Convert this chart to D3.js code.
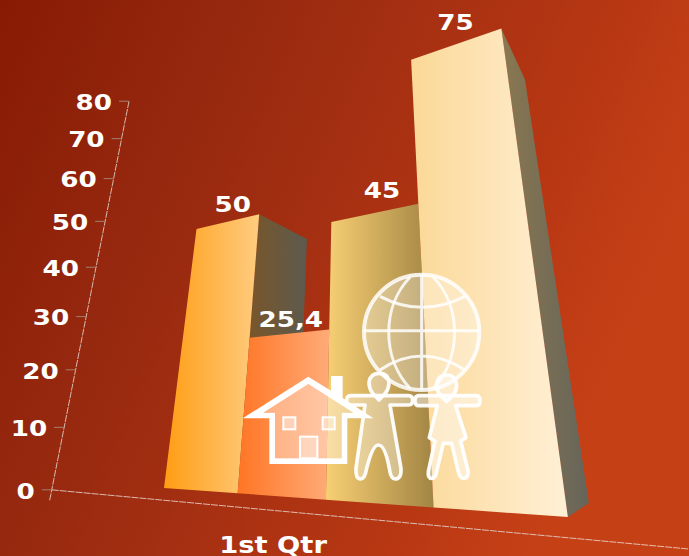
<!DOCTYPE html>
<html>
<head>
<meta charset="utf-8">
<script src="https://cdn.jsdelivr.net/npm/d3@7"></script>
<style>
html,body{margin:0;padding:0;background:#a02c0e;overflow:hidden}
svg{display:block}
text{font-family:"DejaVu Sans",sans-serif;font-weight:700;fill:#fff}
</style>
</head>
<body>
<svg id="c" width="689" height="556"></svg>
<script>
const categories = ["1st Qtr"];
const seriesNames = ["Series 1", "Series 2", "Series 3", "Series 4"];
const seriesValues = [50, 25.4, 45, 75];
const tickValues = [0, 10, 20, 30, 40, 50, 60, 70, 80];
const frontColors = [["#ff9d14", "#ffcc80"], ["#ff7524", "#ffab78"], ["#f8cf74", "#a28544"], ["#fbd897", "#fff0d6"]];
const sideColors = [["#7f5522", "#5c5a4e"], null, null, ["#8a7850", "#66645a"]];
const labelNudges = [[6, -17], [3, -14], [9, -23], [1, -22]];

const W = 689, H = 556;
const svg = d3.select("#c");
const defs = svg.append("defs");

const bg = defs.append("linearGradient").attr("id", "bg")
  .attr("x1", 0).attr("y1", 0).attr("x2", 1).attr("y2", 0.35);
[[0, "#881a04"], [0.3, "#95280e"], [0.55, "#a63012"], [0.8, "#b73713"], [1, "#c64016"]]
  .forEach(([o, c]) => bg.append("stop").attr("offset", o).attr("stop-color", c));
svg.append("rect").attr("width", W).attr("height", H).attr("fill", "url(#bg)");

// Scales for the three chart axes; combined in a perspective projection.
const uScale = d3.scaleBand().domain(seriesNames).range([0, seriesNames.length]);
const vScale = d3.scaleLinear().domain([0, 80]).range([0, 0.3264]);
const tDepth = d3.scaleLinear().domain([0, 1]).range([0, 1]);

function project(u, v, t) {
  const h = vScale(v), d = tDepth(t);
  const xh = 164 + 54 * u + 356 * h + 96.5 * d;
  const yh = 488 - 35.5 * u - 1040 * h + 61 * d;
  const wh = 1 - 0.0827 * u + h + 0.14 * d;
  return [xh / wh, yh / wh];
}
const poly = pts => d3.line()(pts) + "Z";

const bars = seriesNames.map((name, i) => ({ name, i, value: seriesValues[i], u0: uScale(name), u1: uScale(name) + uScale.bandwidth() }));

function gradient(id, cols, pts) {
  const xs = pts.map(p => p[0]);
  const g = defs.append("linearGradient").attr("id", id).attr("gradientUnits", "userSpaceOnUse")
    .attr("x1", d3.min(xs)).attr("x2", d3.max(xs)).attr("y1", 0).attr("y2", 0);
  g.append("stop").attr("offset", 0).attr("stop-color", cols[0]);
  g.append("stop").attr("offset", 1).attr("stop-color", cols[1]);
}

const barG = svg.append("g");
bars.forEach(b => {
  const side = [project(b.u1, 0, 0), project(b.u1, b.value, 0), project(b.u1, b.value, 1), project(b.u1, 0, 1)];
  const front = [project(b.u0, 0, 0), project(b.u0, b.value, 0), project(b.u1, b.value, 0), project(b.u1, 0, 0)];
  if (sideColors[b.i]) {
    gradient("s" + b.i, sideColors[b.i], side);
    barG.append("path").attr("d", poly(side)).attr("fill", `url(#s${b.i})`);
  }
  gradient("f" + b.i, frontColors[b.i], front);
  barG.append("path").attr("d", poly(front)).attr("fill", `url(#f${b.i})`);
});

// Axes
const axU = -0.773, axT = -0.753;
const axisG = svg.append("g").attr("fill", "none");
const axisOrigin = project(axU, 0, axT), axisTop = project(axU, 80, axT);
const axisBelow = project(axU, -1.6, axT), axisRight = project(5, 0, -0.9);
const axisStyle = s => s.attr("stroke", "#e8dcd6").attr("stroke-width", 1).attr("stroke-dasharray", "7 1").attr("stroke-opacity", 0.8);
axisG.append("path").attr("d", d3.line()([axisBelow, axisTop])).call(axisStyle);
axisG.append("path").attr("d", d3.line()([axisOrigin, axisRight])).call(axisStyle);

const labelFont = 22, labelScale = 1.19;
tickValues.forEach(t => {
  const p = project(axU, t, axT);
  axisG.append("line").attr("x1", p[0] - 10).attr("x2", p[0]).attr("y1", p[1]).attr("y2", p[1])
    .attr("stroke", "#a08070").attr("stroke-width", 1);
  svg.append("text").attr("text-anchor", "end").attr("dominant-baseline", "central")
    .attr("font-size", labelFont)
    .attr("transform", `translate(${p[0] - 17},${p[1] + 1.5}) scale(${labelScale},1)`)
    .text(t);
});

// Category label
svg.append("text").attr("text-anchor", "middle").attr("dominant-baseline", "central")
  .attr("font-size", 23)
  .attr("transform", `translate(273,545) scale(1.19,1)`)
  .text(categories[0]);

// Clip art decoration, in a 3x working space
const art = svg.append("g").attr("transform", "translate(230,260) scale(0.3333)");
const globe = art.append("g").attr("fill", "none").attr("stroke", "#fff").attr("stroke-opacity", 0.85).attr("stroke-width", 9);
globe.append("circle").attr("cx", 575).attr("cy", 217).attr("r", 173).attr("fill", "#fff").attr("fill-opacity", 0.3).attr("stroke-width", 12);
globe.append("path").attr("d", "M540,52C455,140 455,295 540,385M610,52C695,140 695,295 610,385");
globe.append("path").attr("d", "M575,44V390M402,212H748M450,109Q575,175 705,109M450,330Q575,246 705,330");

const people = art.append("g").attr("stroke", "#fff").attr("stroke-opacity", 0.95).attr("stroke-width", 11).attr("stroke-linejoin", "round").attr("fill", "#fff").attr("fill-opacity", 0.35);
people.append("path").attr("d", "M362,407H536Q548,407 548,421Q548,435 536,435H480L513,625Q515,657 495,657Q482,657 478,625Q465,555 445,555Q428,555 410,625Q405,657 392,657Q376,657 378,625L405,435H362Q350,435 350,421Q350,407 362,407Z");
people.append("path").attr("d", "M447,420L428,400Q417,385 417,368Q420,340 447,340Q475,340 477,368Q477,385 466,400Z");
people.append("path").attr("fill-opacity", 0.45).attr("d", "M567,407H738Q750,407 750,422Q750,437 738,437H677L708,533L692,543L715,635Q715,655 700,655Q690,655 685,635L665,550H640L620,635Q617,655 605,655Q593,655 595,635L615,543L598,533L622,437H567Q555,437 555,422Q555,407 567,407Z");
people.append("path").attr("fill-opacity", 0.45).attr("d", "M650,425L630,405Q620,392 620,375Q623,345 650,345Q677,345 680,375Q680,392 670,405Z");

const house = art.append("g");
house.append("path").attr("d", "M235,372L100,458H135V595H335V458H370Z").attr("fill", "#fff").attr("fill-opacity", 0.35);
house.append("path").attr("fill", "#fff").attr("fill-rule", "evenodd")
  .attr("d", "M235,350L303,392V348H338V414L430,475H352V612H118V475H38ZM235,372L100,458H135V595H335V458H370Z");
house.selectAll("rect.w").data([[160, 472, 36, 36], [278, 472, 36, 36], [210, 530, 52, 65]]).enter().append("rect")
  .attr("x", d => d[0]).attr("y", d => d[1]).attr("width", d => d[2]).attr("height", d => d[3])
  .attr("fill", "#fff").attr("fill-opacity", 0.35).attr("stroke", "#fff").attr("stroke-width", 6);

// Value labels
const fmt = v => String(v).replace(".", ",");
bars.forEach(b => {
  const p = project(b.u0 + 0.5, b.value, 0);
  const n = labelNudges[b.i];
  svg.append("text").attr("text-anchor", "middle").attr("dominant-baseline", "central")
    .attr("font-size", labelFont)
    .attr("transform", `translate(${p[0] + n[0]},${p[1] + n[1]}) scale(${labelScale},1)`)
    .text(fmt(b.value));
});
</script>
</body>
</html>
